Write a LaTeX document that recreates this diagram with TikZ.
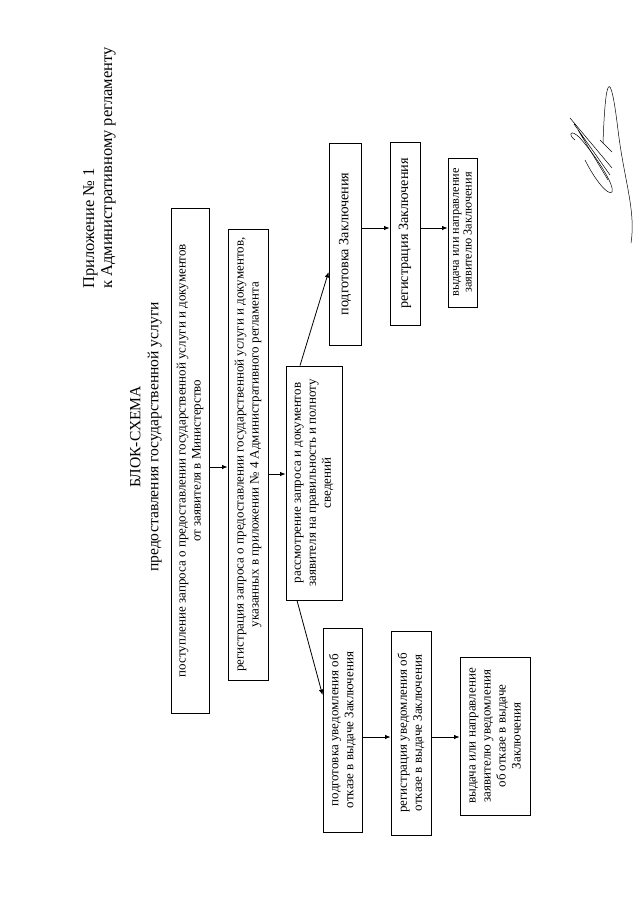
\documentclass[tikz,border=0pt]{standalone}
\usepackage{fontspec}
\setmainfont{Liberation Serif}
\usetikzlibrary{arrows.meta}
\tikzset{
  box/.style={draw, line width=0.9pt, rotate=90, inner sep=0pt, align=center,
    font=\fontsize{13}{15}\selectfont},
  big/.style={font=\fontsize{14.2}{15}\selectfont},
  small/.style={font=\fontsize{12.3}{12.8}\selectfont},
  arr/.style={line width=0.8pt, -{Latex[length=5.5pt,width=4.5pt]}}
}
\begin{document}
\begin{tikzpicture}[x=1pt,y=-1pt]
  \useasboundingbox (0,0) rectangle (640,905);
  \node[rotate=90, anchor=north west, align=left, inner sep=0pt,
    font=\fontsize{16.5}{18}\selectfont] (app) at (83,289)
    {Приложение № 1\\к Административному регламенту};
  \node[rotate=90, align=center, font=\fontsize{15.6}{18}\selectfont] (title) at (146,437)
    {БЛОК-СХЕМА\\предоставления государственной услуги};
  % main line
  \node[box, minimum width=505pt, minimum height=38pt] (recv) at (190,460.5)
    {поступление запроса о предоставлении государственной услуги и документов\\от заявителя в Министерство};
  \node[box, minimum width=451pt, minimum height=40pt] (reg) at (248,454.5)
    {регистрация запроса о предоставлении государственной услуги и документов,\\указанных в приложении № 4 Административного регламента};
  \node[box, minimum width=234pt, minimum height=56pt] (check) at (314,483)
    {рассмотрение запроса и документов\\заявителя на правильность и полноту\\сведений};
  % positive branch
  \node[box, big, minimum width=202pt, minimum height=32pt] (prep) at (345,244)
    {подготовка Заключения};
  \node[box, big, minimum width=183pt, minimum height=30pt] (regc) at (405,233.5)
    {регистрация Заключения};
  \node[box, small, minimum width=149pt, minimum height=29pt] (issue) at (462.5,232.5)
    {выдача или направление\\заявителю Заключения};
  % refusal branch
  \node[box, minimum width=204pt, minimum height=39pt] (prepno) at (342.5,730)
    {подготовка уведомления об\\отказе в выдаче Заключения};
  \node[box, minimum width=204pt, minimum height=40pt] (regno) at (411,733)
    {регистрация уведомления об\\отказе в выдаче Заключения};
  \node[box, minimum width=158pt, minimum height=70pt] (issueno) at (495,736)
    {выдача или направление\\заявителю уведомления\\об отказе в выдаче\\Заключения};
  \draw[arr] (recv.south |- 0,467) -- (reg.north |- 0,467);
  \draw[arr] (reg.south |- 0,474) -- (check.north |- 0,474);
  \draw[arr] (check.east -| 300,0) -- (prep.north |- 0,272);
  \draw[arr] (check.west -| 297,0) -- (prepno.north |- 0,695);
  \foreach \a/\b in {prep/regc,regc/issue}
    \draw[arr] (\a.south |- 0,228) -- (\b.north |- 0,228);
  \foreach \a/\b in {prepno/regno,regno/issueno}
    \draw[arr] (\a.south |- 0,737) -- (\b.north |- 0,737);
  % signature
  \draw[line width=0.5pt] (603,143) .. controls (606,60) and (612,80) .. (618,130)
    .. controls (624,180) and (636,210) .. (631,243);
  \draw[line width=0.5pt] (570,118) -- (612,168) (574,124) -- (610,175)
    (578,130) -- (608,180) (600,140) -- (612,152);
  \draw[line width=0.5pt] (575,140) .. controls (568,135) and (570,128) .. (580,138)
    .. controls (595,155) and (615,185) .. (612,192) .. controls (608,196) and (595,180) .. (585,160);
\end{tikzpicture}
\end{document}
